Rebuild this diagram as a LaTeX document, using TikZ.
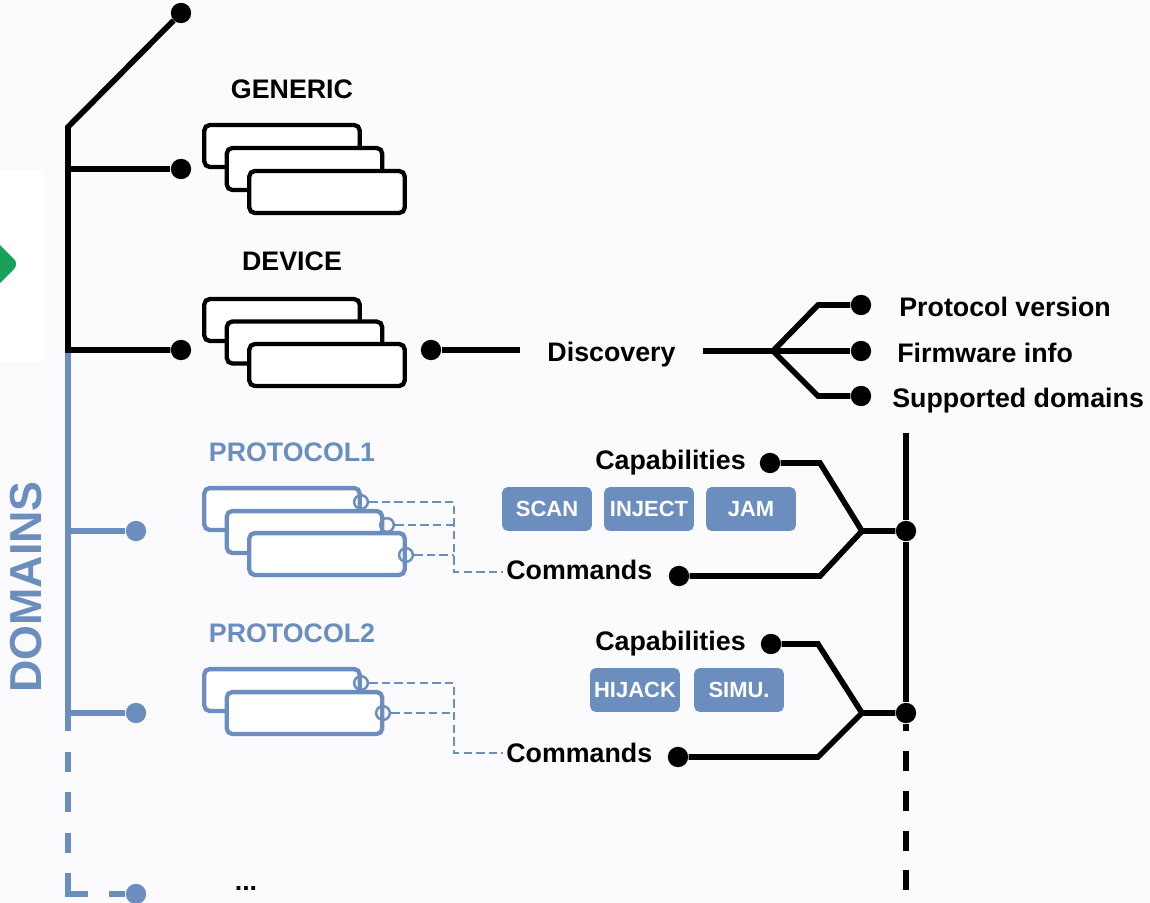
\documentclass[tikz,border=0pt]{standalone}
\usepackage{fontspec}
\setmainfont{Liberation Sans}
\usetikzlibrary{calc}

\definecolor{domblue}{HTML}{6C8EBF}
\definecolor{bgpaper}{RGB}{251,251,254}
\definecolor{flowgreen}{RGB}{25,160,90}

\begin{document}
\begin{tikzpicture}[x=0.02cm,y=-0.02cm,
  blk/.style={line width=3.2pt,black},
  blu/.style={line width=3.3pt,domblue},
  dotk/.style={circle,fill=black,inner sep=0pt,minimum size=11.6pt},
  dotb/.style={circle,fill=domblue,inner sep=0pt,minimum size=11.6pt},
  card/.style={rectangle,rounded corners=3pt,fill=white,line width=2.45pt,
    minimum width=88.4pt,minimum height=23.8pt,inner sep=0pt},
  cardk/.style={card,draw=black},
  cardb/.style={card,draw=domblue},
  port/.style={circle,draw=domblue,line width=1.4pt,minimum size=7.8pt,inner sep=0pt},
  link/.style={domblue,line width=1.3pt,dash pattern=on 4.8pt off 2.4pt},
  lbl/.style={font=\fontsize{15.25}{18}\selectfont\bfseries,inner sep=0pt},
  chip/.style={rectangle,rounded corners=3pt,fill=domblue,text=white,
    font=\fontsize{12.5}{15}\selectfont\bfseries,
    minimum width=51pt,minimum height=24.9pt,inner sep=0pt},
  rtail/.style={dash pattern=on 11.34pt off 11.34pt,dash phase=11.34pt},
  btail/.style={dash pattern=on 0pt off 11.9pt on 11.34pt off 11.34pt on 11.34pt
    off 11.9pt on 11.34pt off 11.9pt on 23.2pt off 11.9pt on 60pt}
]
% paper
\fill[bgpaper] (0,0) rectangle (1150,903);
\fill[white] (0,170) rectangle (44,362);
\useasboundingbox (0,0) rectangle (1150,903);
\clip (0,0) rectangle (1150,903);

% arrow tip entering from the left
\fill[flowgreen,rounded corners=4pt] (19,264) -- (-27,218) -- (-73,264) -- (-27,310) -- cycle;

% ---------- left tree ----------
\coordinate (elbow) at (68,127);
\coordinate (jgen) at (68,169);
\coordinate (jdev) at (68,350);
\coordinate (jp1) at (68,531);
\coordinate (jp2) at (68,713);
\coordinate (blueend) at (68,731);
\coordinate (bluecorner) at (68,894);

\node[dotk] (topdot) at (181,13) {};
\node[dotk] (gendot) at (181,169) {};
\node[dotk] (devdot) at (181,350) {};
\node[dotb] (p1dot) at (136,531) {};
\node[dotb] (p2dot) at (136,713) {};
\node[dotb] (moredot) at (136,894) {};

\draw[blu] (jdev) -- (blueend);
\draw[blu,btail] (blueend) -- (bluecorner) -- (moredot);
\draw[blu] (jp1) -- (p1dot);
\draw[blu] (jp2) -- (p2dot);

\draw[blk] (topdot) -- (elbow) -- (jdev) -- (devdot);
\draw[blk] (jgen) -- (gendot);

\node[font=\fontsize{25.5}{30}\selectfont\bfseries,text=domblue,rotate=90,inner sep=0pt]
  (domains) at (26,587) {DOMAINS};

% ---------- GENERIC ----------
\node[lbl,anchor=base] (genlbl) at (292,98) {GENERIC};
\node[cardk] (g1) at (282,146) {};
\node[cardk] (g2) at (304.5,169) {};
\node[cardk] (g3) at (327,192) {};

% ---------- DEVICE ----------
\node[lbl,anchor=base] (devlbl) at (292,270) {DEVICE};
\node[cardk] (d1) at (282,320) {};
\node[cardk] (d2) at (304.5,342.5) {};
\node[cardk] (d3) at (327,365) {};

% discovery branch
\node[dotk] (ddot) at (431,350) {};
\node[lbl,inner xsep=15.3pt,anchor=base] (disc) at (611.5,361) {Discovery};
\coordinate (dfork) at (773,351);
\draw[blk] (ddot) -- (ddot -| disc.west);
\draw[blk] (disc.east |- dfork) -- (dfork);

\node[dotk] (pvdot) at (861,305) {};
\node[dotk] (fwdot) at (861,351) {};
\node[dotk] (sddot) at (861,396) {};
\draw[blk] (dfork) -- (818,305) -- (pvdot);
\draw[blk] (dfork) -- (fwdot);
\draw[blk] (dfork) -- (818,396) -- (sddot);

\node[lbl,anchor=base west] (pv) at (899,316) {Protocol version};
\node[lbl,anchor=base west] (fw) at (897,362) {Firmware info};
\node[lbl,anchor=base west] (sd) at (892,407) {Supported domains};

% ---------- right spine ----------
\coordinate (rtop) at (906,433);
\coordinate (rsplit) at (906,731);
\coordinate (rend) at (906,893);
\node[dotk] (r1) at (906,531) {};
\node[dotk] (r2) at (906,713) {};
\draw[black,line width=3.6pt] (rtop) -- (r1) -- (r2) -- (rsplit);
\draw[black,line width=3.6pt,rtail] (rsplit) -- (rend);

% ---------- PROTOCOL1 ----------
\node[lbl,anchor=base,text=domblue] (p1lbl) at (292,461) {PROTOCOL1};
\node[cardb] (a1) at (282,509) {};
\node[port] (a1p) at (361,502) {};
\node[cardb] (a2) at (304.5,532) {};
\node[port] (a2p) at (387,525) {};
\node[cardb] (a3) at (327,554) {};
\node[port] (a3p) at (406,555) {};

\node[lbl,anchor=base east] (cap1) at (746,469) {Capabilities};
\node[lbl,anchor=base west] (cmd1) at (506,579) {Commands};
\node[chip] (scan) at (547,509) {SCAN};
\node[chip] (inject) at (649,509) {INJECT};
\node[chip] (jam) at (751,509) {JAM};

\coordinate (b1t) at (454,502);
\coordinate (b1m) at (454,525);
\coordinate (b1n) at (454,555);
\coordinate (b1c) at (454,572);
\draw[link] (a1p) -- (b1t) -- (b1c) -- ([xshift=-1.5pt]b1c -| cmd1.west);
\draw[link] (a2p) -- (b1m);
\draw[link] (a3p) -- (b1n);

\node[dotk] (cap1dot) at (770,463) {};
\node[dotk] (cmd1dot) at (679,576) {};
\coordinate (f1) at (862,531);
\draw[blk] (cap1dot) -- (820,463) -- (f1) -- (r1);
\draw[blk] (cmd1dot) -- (820,576) -- (f1);

% ---------- PROTOCOL2 ----------
\node[lbl,anchor=base,text=domblue] (p2lbl) at (292,642) {PROTOCOL2};
\node[cardb] (c1) at (282,690) {};
\node[port] (c1p) at (361,683) {};
\node[cardb] (c2) at (304.5,713) {};
\node[port] (c2p) at (383,713) {};

\node[lbl,anchor=base east] (cap2) at (746,650) {Capabilities};
\node[lbl,anchor=base west] (cmd2) at (506,762) {Commands};
\node[chip] (hijack) at (635,690) {HIJACK};
\node[chip] (simu) at (739,690) {SIMU.};

\coordinate (b2t) at (454,683);
\coordinate (b2m) at (454,713);
\coordinate (b2c) at (454,753);
\draw[link] (c1p) -- (b2t) -- (b2c) -- ([xshift=-1.5pt]b2c -| cmd2.west);
\draw[link] (c2p) -- (b2m);

\node[dotk] (cap2dot) at (771,644) {};
\node[dotk] (cmd2dot) at (678,757) {};
\coordinate (f2) at (862,713);
\draw[blk] (cap2dot) -- (818,644) -- (f2) -- (r2);
\draw[blk] (cmd2dot) -- (818,757) -- (f2);

% more domains
\node[lbl,anchor=base] (more) at (246,890) {...};
\end{tikzpicture}
\end{document}
